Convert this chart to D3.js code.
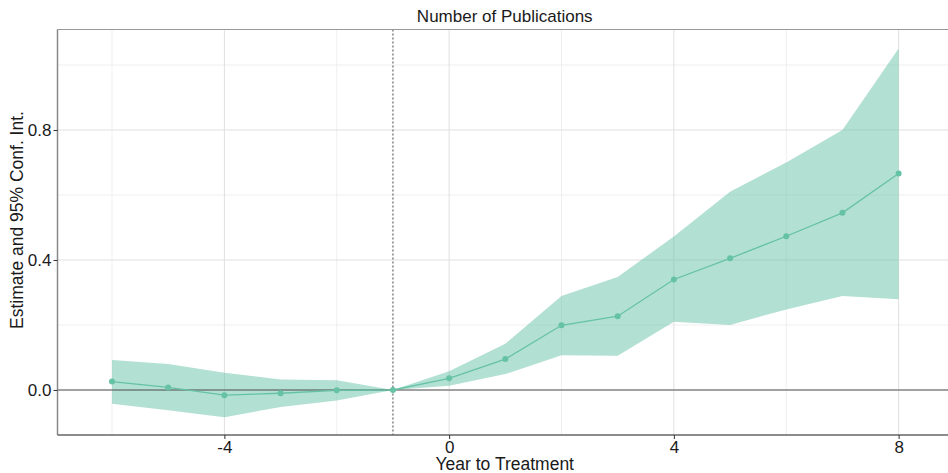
<!DOCTYPE html>
<html>
<head>
<meta charset="utf-8">
<script src="https://cdn.jsdelivr.net/npm/d3@7"></script>
<style>
  html, body { margin: 0; padding: 0; background: #fff; }
  svg { display: block; font-family: "Liberation Sans", Arial, sans-serif; }
</style>
</head>
<body>
<svg id="chart" width="948" height="473"></svg>
<script>
// Event-study estimates for the number of publications
const years     = [-6, -5, -4, -3, -2, -1, 0, 1, 2, 3, 4, 5, 6, 7, 8];
const estimates = [0.026, 0.008, -0.016, -0.010, -0.001, 0, 0.036, 0.095, 0.199, 0.227, 0.340, 0.405, 0.473, 0.545, 0.666];
const ciLower   = [-0.042, -0.062, -0.084, -0.052, -0.032, 0, 0.013, 0.049, 0.107, 0.105, 0.210, 0.200, 0.248, 0.289, 0.279];
const ciUpper   = [0.092, 0.080, 0.053, 0.032, 0.030, 0, 0.058, 0.142, 0.289, 0.348, 0.472, 0.610, 0.700, 0.800, 1.051];
const xMajorTicks = [-4, 0, 4, 8];
const xMinorTicks = [-6, -2, 2, 6];
const yMajorTicks = [0.0, 0.4, 0.8];
const yMinorTicks = [0.2, 0.6, 1.0];
const treatmentYear = -1;

const data = years.map((t, i) => ({ t, est: estimates[i], lo: ciLower[i], hi: ciUpper[i] }));

const svg = d3.select("#chart");
const panel = { left: 57.5, right: 952, top: 29.5, bottom: 435 };

const x = d3.scaleLinear().domain([-6.97, 8.95]).range([panel.left, panel.right]);
const y = d3.scaleLinear().domain([-0.1385, 1.1092]).range([panel.bottom, panel.top]);

const g = svg.append("g");

// grid
g.selectAll(".ygmin").data(yMinorTicks).join("line")
  .attr("x1", panel.left).attr("x2", panel.right)
  .attr("y1", d => y(d)).attr("y2", d => y(d))
  .attr("stroke", "#efefef").attr("stroke-width", 1);
g.selectAll(".xgmin").data(xMinorTicks).join("line")
  .attr("y1", panel.top).attr("y2", panel.bottom)
  .attr("x1", d => x(d)).attr("x2", d => x(d))
  .attr("stroke", "#efefef").attr("stroke-width", 1);
g.selectAll(".ygmaj").data(yMajorTicks).join("line")
  .attr("x1", panel.left).attr("x2", panel.right)
  .attr("y1", d => y(d)).attr("y2", d => y(d))
  .attr("stroke", "#e0e0e0").attr("stroke-width", 1);
g.selectAll(".xgmaj").data(xMajorTicks).join("line")
  .attr("y1", panel.top).attr("y2", panel.bottom)
  .attr("x1", d => x(d)).attr("x2", d => x(d))
  .attr("stroke", "#e0e0e0").attr("stroke-width", 1);

// confidence band
const area = d3.area().x(d => x(d.t)).y0(d => y(d.lo)).y1(d => y(d.hi));
g.append("path").datum(data).attr("d", area)
  .attr("fill", "#66c2a5").attr("fill-opacity", 0.5);

// zero reference line
g.append("line")
  .attr("x1", panel.left).attr("x2", panel.right)
  .attr("y1", y(0)).attr("y2", y(0))
  .attr("stroke", "#555").attr("stroke-width", 1.2);

// treatment year marker
g.append("line")
  .attr("x1", x(treatmentYear)).attr("x2", x(treatmentYear))
  .attr("y1", panel.top).attr("y2", panel.bottom)
  .attr("stroke", "#444").attr("stroke-width", 1)
  .attr("stroke-dasharray", "2,2");

// estimate line and points
const line = d3.line().x(d => x(d.t)).y(d => y(d.est));
g.append("path").datum(data).attr("d", line)
  .attr("fill", "none").attr("stroke", "#66c2a5").attr("stroke-width", 1.3);
g.selectAll(".pt").data(data).join("circle")
  .attr("cx", d => x(d.t)).attr("cy", d => y(d.est)).attr("r", 3)
  .attr("fill", "#66c2a5");

// panel border: top, left, bottom
g.append("line").attr("x1", panel.left).attr("x2", panel.right)
  .attr("y1", panel.top).attr("y2", panel.top)
  .attr("stroke", "#999").attr("stroke-width", 1.2);
g.append("line").attr("x1", panel.left).attr("x2", panel.left)
  .attr("y1", panel.top).attr("y2", panel.bottom)
  .attr("stroke", "#888").attr("stroke-width", 1.5);
g.append("line").attr("x1", panel.left).attr("x2", panel.right)
  .attr("y1", panel.bottom).attr("y2", panel.bottom)
  .attr("stroke", "#666").attr("stroke-width", 1.5);

// axes
const yAxis = d3.axisLeft(y).tickValues(yMajorTicks).tickFormat(d3.format(".1f")).tickSize(4).tickPadding(2);
const yG = svg.append("g").attr("transform", `translate(${panel.left},0)`).call(yAxis);
yG.select(".domain").remove();
yG.selectAll("line").attr("stroke", "#333");
yG.selectAll("text").attr("font-size", 17).attr("fill", "#1a1a1a")
  .attr("font-family", "Liberation Sans, Arial, sans-serif");

const xAxis = d3.axisBottom(x).tickValues(xMajorTicks).tickFormat(d => String(d)).tickSize(4).tickPadding(2);
const xG = svg.append("g").attr("transform", `translate(0,${panel.bottom})`).call(xAxis);
xG.select(".domain").remove();
xG.selectAll("line").attr("stroke", "#333");
xG.selectAll("text").attr("font-size", 17).attr("fill", "#1a1a1a")
  .attr("font-family", "Liberation Sans, Arial, sans-serif");

// titles
const cx = (panel.left + panel.right) / 2;
svg.append("text").attr("x", cx).attr("y", 22).attr("text-anchor", "middle")
  .attr("font-size", 17).attr("fill", "#1a1a1a").text("Number of Publications");
svg.append("text").attr("x", cx).attr("y", 470).attr("text-anchor", "middle")
  .attr("font-size", 17.5).attr("fill", "#1a1a1a").text("Year to Treatment");
svg.append("text")
  .attr("transform", `translate(23,220) rotate(-90)`)
  .attr("text-anchor", "middle")
  .attr("font-size", 17.5).attr("fill", "#1a1a1a").text("Estimate and 95% Conf. Int.");
</script>
</body>
</html>
